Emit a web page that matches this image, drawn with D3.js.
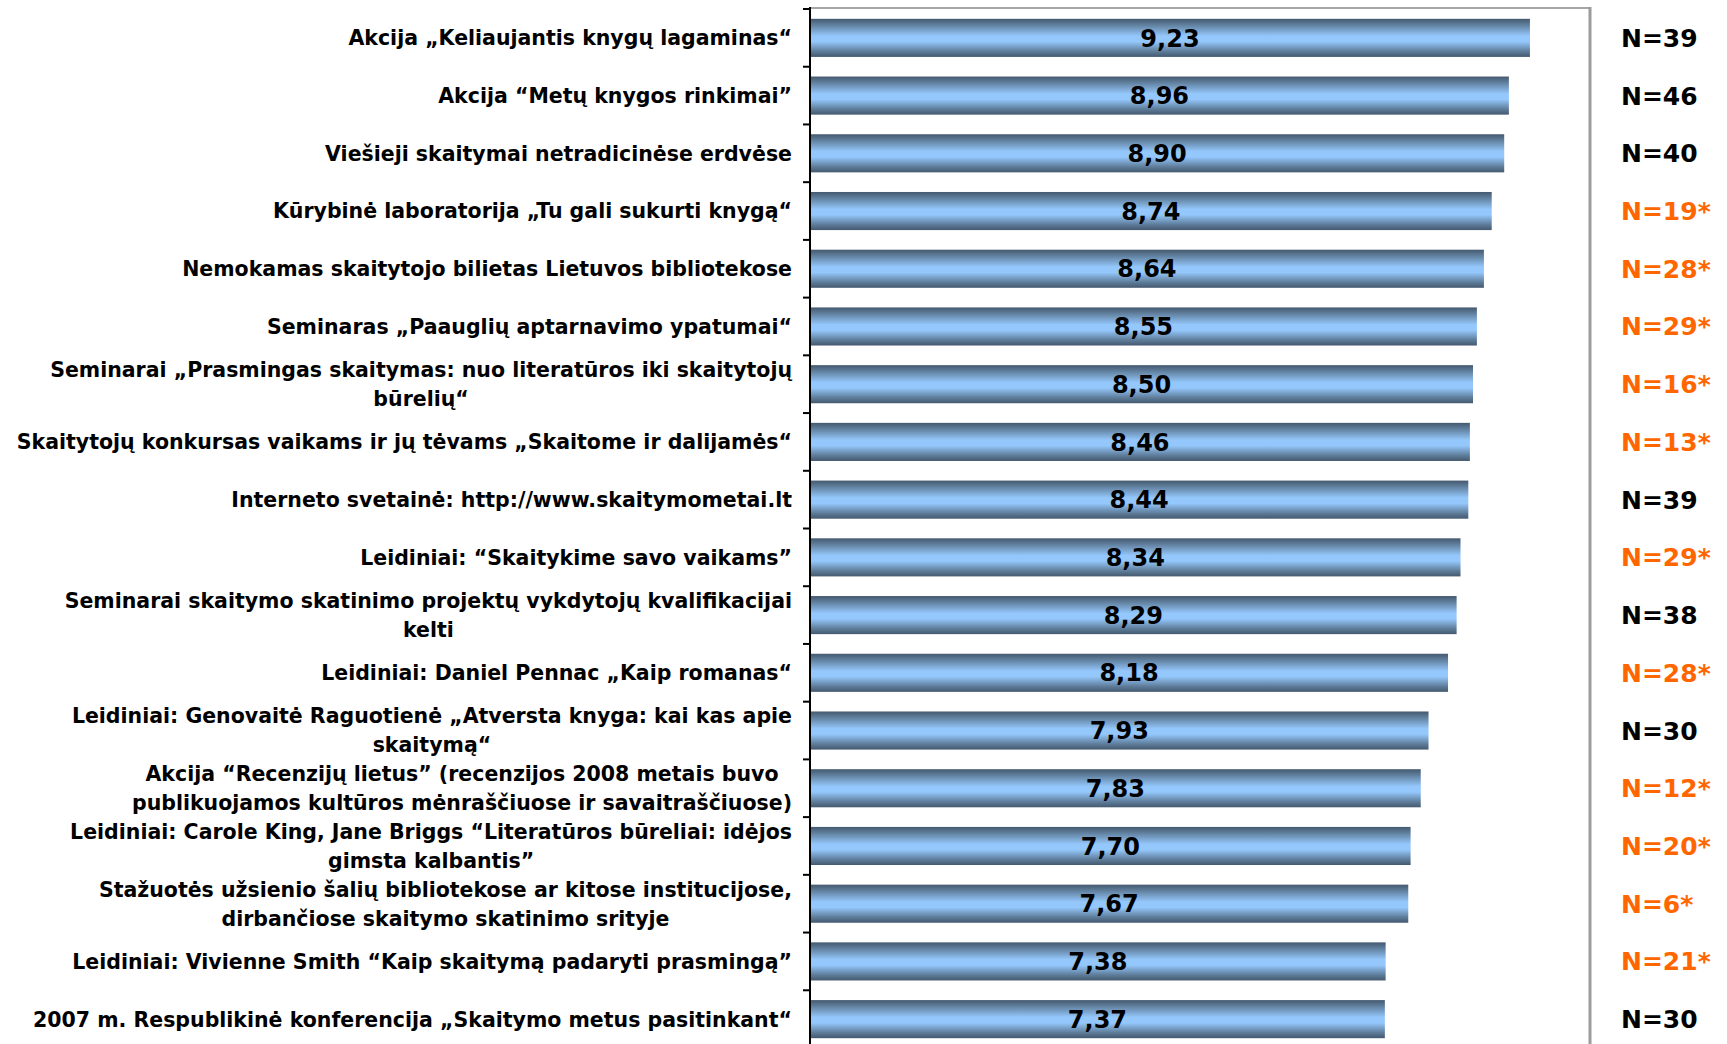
<!DOCTYPE html>
<html>
<head>
<meta charset="utf-8">
<script src="https://cdn.jsdelivr.net/npm/d3@7"></script>
<style>
  body{ margin:0; background:#fff; }
  text{ font-family:"DejaVu Sans", Verdana, sans-serif; font-weight:bold; }
</style>
</head>
<body>
<svg id="chart" width="1727" height="1044"></svg>
<script>
// categories (a "|" marks a line break in the label)
var categories = [
  "Akcija „Keliaujantis knygų lagaminas“",
  "Akcija “Metų knygos rinkimai”",
  "Viešieji skaitymai netradicinėse erdvėse",
  "Kūrybinė laboratorija „Tu gali sukurti knygą“",
  "Nemokamas skaitytojo bilietas Lietuvos bibliotekose",
  "Seminaras „Paauglių aptarnavimo ypatumai“",
  "Seminarai „Prasmingas skaitymas: nuo literatūros iki skaitytojų|būrelių“",
  "Skaitytojų konkursas vaikams ir jų tėvams „Skaitome ir dalijamės“",
  "Interneto svetainė: http://www.skaitymometai.lt",
  "Leidiniai: “Skaitykime savo vaikams”",
  "Seminarai skaitymo skatinimo projektų vykdytojų kvalifikacijai|kelti",
  "Leidiniai: Daniel Pennac „Kaip romanas“",
  "Leidiniai: Genovaitė Raguotienė „Atversta knyga: kai kas apie|skaitymą“",
  "Akcija “Recenzijų lietus” (recenzijos 2008 metais buvo|publikuojamos kultūros mėnraščiuose ir savaitraščiuose)",
  "Leidiniai: Carole King, Jane Briggs “Literatūros būreliai: idėjos|gimsta kalbantis”",
  "Stažuotės užsienio šalių bibliotekose ar kitose institucijose,|dirbančiose skaitymo skatinimo srityje",
  "Leidiniai: Vivienne Smith “Kaip skaitymą padaryti prasmingą”",
  "2007 m. Respublikinė konferencija „Skaitymo metus pasitinkant“"
];
var values = [9.23, 8.96, 8.90, 8.74, 8.64, 8.55, 8.50, 8.46, 8.44, 8.34, 8.29, 8.18, 7.93, 7.83, 7.70, 7.67, 7.38, 7.37];
var counts = [39, 46, 40, 19, 28, 29, 16, 13, 39, 29, 38, 28, 30, 12, 20, 6, 21, 30];
var smallSample = [false, false, false, true, true, true, true, true, false, true, false, true, false, true, true, true, true, false];

var svg = d3.select("#chart");

var x = d3.scaleLinear().domain([0, 10]).range([810, 1590]);
var y = d3.scaleBand().domain(d3.range(categories.length)).range([9, 1048])
  .paddingInner(0.34).paddingOuter(0.17);

// bar gradient
var grad = svg.append("defs").append("linearGradient")
  .attr("id", "barGrad").attr("x1", 0).attr("y1", 0).attr("x2", 0).attr("y2", 1);
[[0, "#44596f"], [0.14, "#5d7b98"], [0.45, "#94c7fb"], [0.6, "#94c7fb"], [0.86, "#5d7b98"], [1, "#44596f"]]
  .forEach(function(s){ grad.append("stop").attr("offset", s[0]).attr("stop-color", s[1]); });

// frame: top and right grey, left axis black
svg.append("line").attr("x1", x(0)).attr("x2", x(10)).attr("y1", 8).attr("y2", 8)
  .attr("stroke", "#a6a6a6").attr("stroke-width", 2);
svg.append("line").attr("x1", x(10)).attr("x2", x(10)).attr("y1", 7).attr("y2", 1044)
  .attr("stroke", "#9c9c9c").attr("stroke-width", 3);

// bars
svg.selectAll("rect.bar").data(values).enter().append("rect")
  .attr("class", "bar")
  .attr("x", x(0))
  .attr("y", function(d, i){ return y(i); })
  .attr("width", function(d){ return x(d) - x(0); })
  .attr("height", y.bandwidth())
  .attr("fill", "url(#barGrad)");

// y axis line + ticks at band boundaries
svg.append("line").attr("x1", x(0)).attr("x2", x(0)).attr("y1", 7).attr("y2", 1044)
  .attr("stroke", "#000").attr("stroke-width", 2);
svg.selectAll("line.tick").data(d3.range(categories.length + 1)).enter().append("line")
  .attr("class", "tick")
  .attr("x1", x(0) - 7).attr("x2", x(0))
  .attr("y1", function(i){ return 9 + i * y.step(); })
  .attr("y2", function(i){ return 9 + i * y.step(); })
  .attr("stroke", "#000").attr("stroke-width", 2);

// value labels inside bars
svg.selectAll("text.val").data(values).enter().append("text")
  .attr("class", "val")
  .attr("x", function(d){ return (x(0) + x(d)) / 2; })
  .attr("y", function(d, i){ return y(i) + y.bandwidth() / 2; })
  .attr("dy", "0.36em")
  .attr("text-anchor", "middle")
  .attr("font-size", 24)
  .attr("fill", "#000")
  .text(function(d){ return d.toFixed(2).replace(".", ","); });

// category labels, multi-line blocks centered on their widest line
var labelRight = 792, lineH = 29;
categories.forEach(function(c, i){
  var lines = c.split("|");
  var g = svg.append("g");
  var cy = y(i) + y.bandwidth() / 2;
  var texts = lines.map(function(l, k){
    return g.append("text")
      .attr("font-size", 20.5)
      .attr("fill", "#000")
      .attr("text-anchor", "middle")
      .attr("y", cy + (k - (lines.length - 1) / 2) * lineH)
      .attr("dy", "0.36em")
      .text(l);
  });
  var maxW = d3.max(texts, function(t){ return t.node().getComputedTextLength(); });
  texts.forEach(function(t){ t.attr("x", labelRight - maxW / 2); });
});

// sample size labels
svg.selectAll("text.n").data(counts).enter().append("text")
  .attr("class", "n")
  .attr("x", 1621)
  .attr("y", function(d, i){ return y(i) + y.bandwidth() / 2; })
  .attr("dy", "0.36em")
  .attr("text-anchor", "start")
  .attr("font-size", 25)
  .attr("fill", function(d, i){ return smallSample[i] ? "#ff6600" : "#000"; })
  .text(function(d, i){ return "N=" + d + (smallSample[i] ? "*" : ""); });
</script>
</body>
</html>
